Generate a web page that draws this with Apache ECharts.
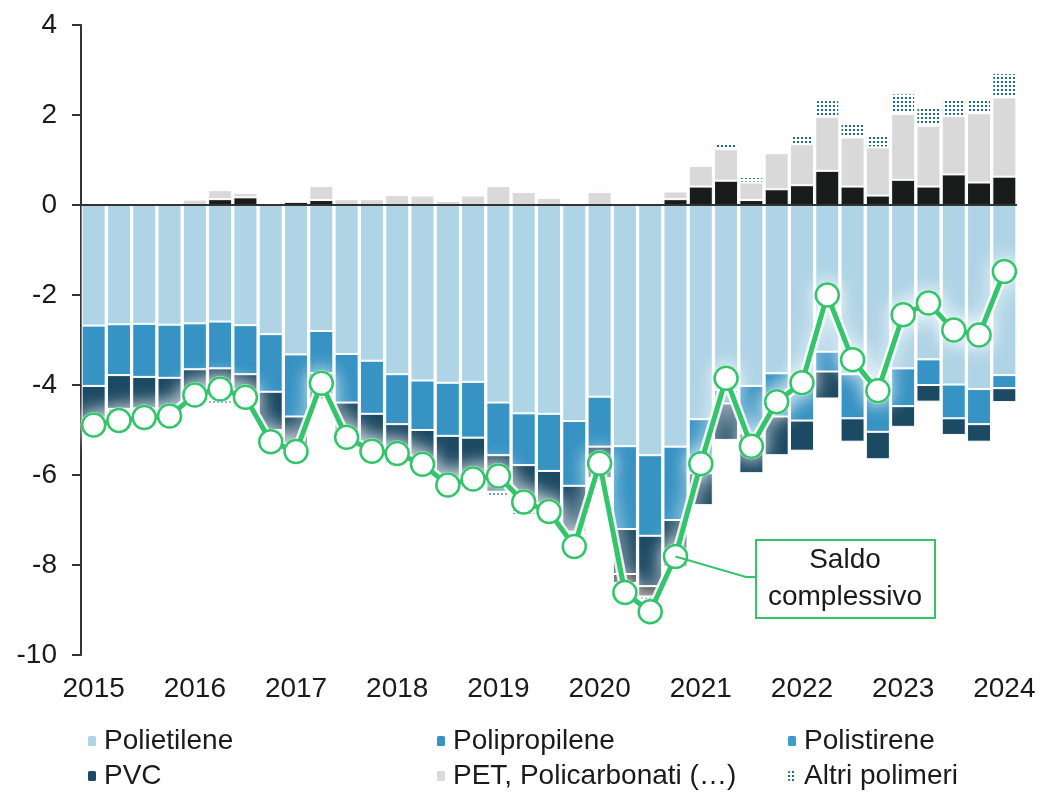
<!DOCTYPE html>
<html>
<head>
<meta charset="utf-8">
<script src="https://cdn.jsdelivr.net/npm/echarts@6/dist/echarts.min.js"></script>
<style>
  html, body { margin: 0; padding: 0; background: #fff; }
  #chart { width: 1041px; height: 794px; }
</style>
</head>
<body>
<div id="chart"></div>
<script>
// trimestri 2015 T1 - 2024 T1
const periodi = [
  '2015 T1', '2015 T2', '2015 T3', '2015 T4',
  '2016 T1', '2016 T2', '2016 T3', '2016 T4',
  '2017 T1', '2017 T2', '2017 T3', '2017 T4',
  '2018 T1', '2018 T2', '2018 T3', '2018 T4',
  '2019 T1', '2019 T2', '2019 T3', '2019 T4',
  '2020 T1', '2020 T2', '2020 T3', '2020 T4',
  '2021 T1', '2021 T2', '2021 T3', '2021 T4',
  '2022 T1', '2022 T2', '2022 T3', '2022 T4',
  '2023 T1', '2023 T2', '2023 T3', '2023 T4',
  '2024 T1'
];

const polietilene = [
  -2.68, -2.65, -2.64, -2.66, -2.63, -2.59, -2.67, -2.87, -3.32, -2.80, -3.31, -3.46,
  -3.76, -3.90, -3.95, -3.93, -4.39, -4.63, -4.64, -4.80, -4.26, -5.36, -5.56, -5.37,
  -4.76, -4.11, -4.02, -3.74, -3.80, -3.26, -3.76, -4.15, -3.63, -3.43, -3.99, -4.09, -3.78
];
const polipropilene = [
  -1.34, -1.13, -1.18, -1.18, -1.02, -1.04, -1.09, -1.28, -1.38, -0.94, -1.08, -1.18,
  -1.11, -1.10, -1.18, -1.24, -1.17, -1.15, -1.27, -1.44, -1.11, -1.84, -1.79, -1.63,
  -1.20, -0.30, -1.05, -0.96, -0.99, -0.44, -0.98, -0.89, -0.84, -0.57, -0.75, -0.78, -0.29
];
const polistirene = [];
const pvc = [
  -0.72, -0.75, -0.70, -0.70, -0.55, -0.65, -0.65, -0.85, -0.75, -0.59, -0.80, -0.85,
  -0.75, -0.80, -1.05, -1.05, -0.81, -0.95, -0.98, -1.02, -0.70, -1.00, -1.12, -1.04,
  -0.71, -0.81, -0.89, -0.86, -0.67, -0.60, -0.52, -0.61, -0.46, -0.37, -0.37, -0.39, -0.31
];
// serie in nero (senza voce in legenda)
const altro = [
  0, 0, 0, 0, 0, 0.13, 0.17, 0, 0.07, 0.11, 0, 0,
  0, 0, 0, 0, 0, 0, 0, 0, 0, -0.20, -0.23, 0.13,
  0.41, 0.54, 0.11, 0.35, 0.44, 0.76, 0.41, 0.21, 0.56, 0.41, 0.68, 0.50, 0.63
];
const pet = [
  0, 0, 0, 0, 0.12, 0.20, 0.10, 0, 0, 0.31, 0.13, 0.13,
  0.22, 0.21, 0.09, 0.21, 0.42, 0.29, 0.16, 0, 0.29, 0.03, 0, 0.17,
  0.46, 0.70, 0.39, 0.80, 0.91, 1.20, 1.09, 1.07, 1.46, 1.35, 1.30, 1.54, 1.76
];
const altriPolimeri = [
  -0.12, -0.22, -0.15, -0.12, -0.12, -0.18, -0.15, -0.25, -0.10, -0.05, -0.10, -0.11,
  -0.14, -0.17, -0.13, -0.08, -0.10, -0.16, -0.08, -0.32, 0.04, -0.24, -0.34, -0.05,
  0.05, 0.13, 0.12, 0.05, 0.20, 0.37, 0.34, 0.28, 0.46, 0.44, 0.37, 0.34, 0.54
];
const saldo = [
  -4.89, -4.79, -4.72, -4.69, -4.22, -4.09, -4.27, -5.26, -5.48, -3.96, -5.16, -5.47,
  -5.52, -5.76, -6.22, -6.09, -6.02, -6.60, -6.81, -7.59, -5.74, -8.61, -9.04, -7.81,
  -5.75, -3.85, -5.36, -4.37, -3.95, -2.00, -3.44, -4.13, -2.44, -2.18, -2.78, -2.89, -1.48
];

const FONT = 'Liberation Sans, Arial, sans-serif';
const VERDE = '#34c46c';

// trama a puntini per "Altri polimeri"
function puntini () {
  const c = document.createElement('canvas');
  c.width = 4; c.height = 4;
  const ctx = c.getContext('2d');
  ctx.fillStyle = '#fff';
  ctx.fillRect(0, 0, 4, 4);
  ctx.fillStyle = '#1f6a8c';
  ctx.fillRect(1, 1, 2, 2);
  return c;
}

function barra (name, data, color) {
  return {
    name: name,
    type: 'bar',
    stack: 'tot',
    barCategoryGap: '5%',
    data: data.map(v => (v === 0 ? null : v)),
    itemStyle: { color: color, borderColor: '#fff', borderWidth: 1 }
  };
}

const chart = echarts.init(document.getElementById('chart'), null, { renderer: 'canvas' });

// una legenda per voce, disposte su 3 colonne e 2 righe
const voci = [
  ['Polietilene', 86, 727],
  ['Polipropilene', 435, 727],
  ['Polistirene', 786, 727],
  ['PVC', 86, 762],
  ['PET, Policarbonati (…)', 435, 762],
  ['Altri polimeri', 786, 762]
];
const legende = voci.map(v => ({
  left: v[1],
  top: v[2],
  padding: 0,
  itemWidth: 10,
  itemHeight: 12,
  itemGap: 0,
  selectedMode: false,
  data: [v[0]],
  textStyle: { fontFamily: FONT, fontSize: 28, color: '#1a1a1a', padding: [0, 0, 0, 2] }
}));

const series = [
  barra('Polietilene', polietilene, '#afd4e6'),
  barra('Polipropilene', polipropilene, '#3793c3'),
  barra('Polistirene', polistirene, '#3c9bcb'),
  barra('PVC', pvc, '#1d4a63'),
  barra('Altro', altro, '#1a1c1c'),
  barra('PET, Policarbonati (…)', pet, '#d9d9d9'),
  barra('Altri polimeri', altriPolimeri, { image: puntini(), repeat: 'repeat' }),
  // alone bianco sotto la linea del saldo
  {
    name: 'alone',
    type: 'line',
    data: saldo,
    z: 9,
    silent: true,
    symbol: 'circle',
    symbolSize: 26,
    showAllSymbol: true,
    lineStyle: {
      color: 'rgba(255,255,255,0.85)', width: 10,
      shadowColor: '#fff', shadowBlur: 20
    },
    itemStyle: { color: '#fff', shadowColor: '#fff', shadowBlur: 20 }
  },
  {
    name: 'Saldo complessivo',
    type: 'line',
    data: saldo,
    z: 10,
    symbol: 'circle',
    symbolSize: 23,
    showSymbol: true,
    showAllSymbol: true,
    lineStyle: { color: VERDE, width: 5 },
    itemStyle: { color: '#fff', borderColor: VERDE, borderWidth: 2.5 }
  }
];

// linea dello zero
series[0].markLine = {
  silent: true,
  symbol: 'none',
  label: { show: false },
  lineStyle: { color: '#333', width: 2, type: 'solid' },
  data: [{ yAxis: 0 }]
};

const option = {
  animation: false,
  backgroundColor: '#fff',
  grid: { left: 81, right: 24, top: 25, bottom: 139, containLabel: false, outerBoundsMode: 'none' },
  legend: legende,
  xAxis: {
    type: 'category',
    data: periodi,
    axisLine: { show: false, onZero: false },
    axisTick: { show: false },
    axisLabel: {
      interval: 3,
      margin: 20,
      fontFamily: FONT,
      fontSize: 28,
      color: '#1a1a1a',
      formatter: v => v.slice(0, 4)
    }
  },
  yAxis: {
    type: 'value',
    min: -10,
    max: 4,
    interval: 2,
    splitLine: { show: false },
    axisLine: { show: true, lineStyle: { color: '#333', width: 2 } },
    axisTick: { show: true, length: 9, lineStyle: { color: '#333', width: 2 } },
    axisLabel: { margin: 24, fontFamily: FONT, fontSize: 28, color: '#1a1a1a' }
  },
  series: series
};

chart.setOption(option);

// riquadro "Saldo complessivo" con linea di richiamo
const p = chart.convertToPixel({ seriesIndex: 8 }, [23, saldo[23]]);
chart.setOption({
  graphic: [
    {
      type: 'polyline',
      z: 20,
      shape: { points: [[p[0], p[1]], [746, 577], [756, 577]] },
      style: { stroke: VERDE, lineWidth: 2, fill: null }
    },
    {
      type: 'rect',
      z: 20,
      shape: { x: 756, y: 540, width: 179, height: 78 },
      style: { fill: '#fff', stroke: VERDE, lineWidth: 2 }
    },
    {
      type: 'text',
      z: 21,
      x: 845,
      y: 579,
      style: {
        text: 'Saldo\ncomplessivo',
        font: '28px ' + FONT,
        fill: '#1a1a1a',
        align: 'center',
        verticalAlign: 'middle',
        lineHeight: 37
      }
    }
  ]
});
</script>
</body>
</html>
